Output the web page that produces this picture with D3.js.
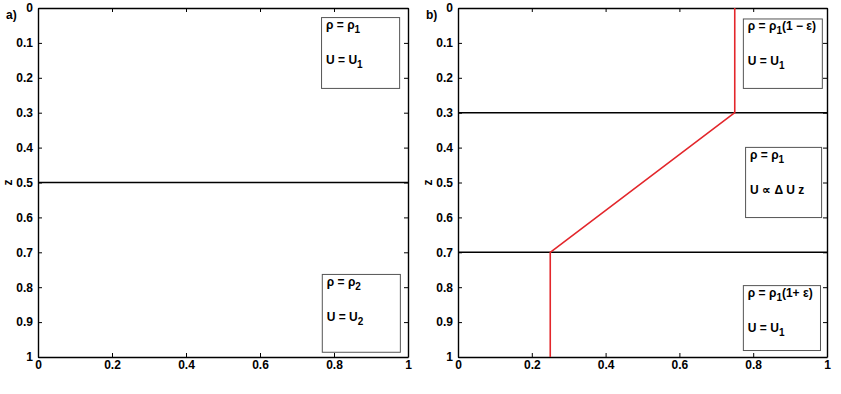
<!DOCTYPE html>
<html>
<head>
<meta charset="utf-8">
<script src="https://cdn.jsdelivr.net/npm/d3@7"></script>
<style>
  body { margin:0; background:#fff; }
  text { font-family: "Liberation Sans", Arial, Helvetica, sans-serif; font-weight: bold; }
</style>
</head>
<body>
<div class="canvas"></div>
<script>
// ---------------- data
const xTicks = [0, 0.2, 0.4, 0.6, 0.8, 1];
const zTicks = [0, 0.1, 0.2, 0.3, 0.4, 0.5, 0.6, 0.7, 0.8, 0.9, 1];

// interfaces (z) for each panel
const interfacesA = [0.5];
const interfacesB = [0.3, 0.7];

// red velocity profile in panel b
const profileU = [0.75, 0.75, 0.25, 0.25];
const profileZ = [0, 0.3, 0.7, 1];

// label boxes: [x0, x1, z0, z1] in data units + two text lines
const boxesA = [
  { ext:[0.765, 0.976, 0.026, 0.229], l1:[["ρ = ρ"],["1",1]], l2:[["U = U"],["1",1]] },
  { ext:[0.767, 0.978, 0.762, 0.985], l1:[["ρ = ρ"],["2",1]], l2:[["U = U"],["2",1]] }
];
const boxesB = [
  { ext:[0.772, 0.986, 0.030, 0.229], l1:[["ρ = ρ"],["1",1],["(1 − ε)"]], l2:[["U = U"],["1",1]] },
  { ext:[0.778, 0.984, 0.398, 0.599], l1:[["ρ = ρ"],["1",1]], l2:[["U ∝ Δ U z"]] },
  { ext:[0.772, 0.981, 0.794, 0.980], l1:[["ρ = ρ"],["1",1],["(1+ ε)"]], l2:[["U = U"],["1",1]] }
];

// ---------------- svg
const svg = d3.select('.canvas').append('svg')
  .attr('width', 841).attr('height', 394);

const dims = { top: 8, height: 349, width: 370 };

const drawPanel = (left, width, tag, interfaces, boxes, profile) => {
  const x = d3.scaleLinear().domain([0, 1]).range([left, left + width]);
  const y = d3.scaleLinear().domain([0, 1]).range([dims.top, dims.top + dims.height]);
  const g = svg.append('g');

  // axes with inward ticks
  const fmt = d3.format('.1~f');
  const styleAxis = sel => {
    sel.select('.domain').attr('stroke', '#000').attr('stroke-width', 1.4);
    sel.selectAll('.tick line').attr('stroke', '#000').attr('stroke-width', 1);
    sel.selectAll('text').attr('font-size', 12).attr('fill', '#000')
      .style('font-family', '"Liberation Sans", Arial, sans-serif').style('font-weight', 'bold');
  };
  g.append('g').attr('transform', `translate(0,${y(1)})`)
    .call(d3.axisBottom(x).tickValues(xTicks).tickFormat(fmt).tickSizeInner(-4).tickSizeOuter(0).tickPadding(3))
    .call(styleAxis);
  g.append('g').attr('transform', `translate(0,${y(0)})`)
    .call(d3.axisTop(x).tickValues(xTicks).tickFormat('').tickSizeInner(-4).tickSizeOuter(0))
    .call(styleAxis);
  g.append('g').attr('transform', `translate(${x(0)},0)`)
    .call(d3.axisLeft(y).tickValues(zTicks).tickFormat(fmt).tickSizeInner(-4).tickSizeOuter(0).tickPadding(5))
    .call(styleAxis);
  g.append('g').attr('transform', `translate(${x(1)},0)`)
    .call(d3.axisRight(y).tickValues(zTicks).tickFormat('').tickSizeInner(-4).tickSizeOuter(0))
    .call(styleAxis);

  // interfaces
  g.selectAll('line.iface').data(interfaces).enter().append('line')
    .attr('class', 'iface')
    .attr('x1', x(0)).attr('x2', x(1))
    .attr('y1', d => y(d)).attr('y2', d => y(d))
    .attr('stroke', '#000').attr('stroke-width', 1.6);

  // velocity profile
  if (profile) {
    const line = d3.line().x(d => x(d[0])).y(d => y(d[1]));
    g.append('path').datum(profile)
      .attr('d', line).attr('fill', 'none')
      .attr('stroke', '#e3262b').attr('stroke-width', 1.6);
  }

  // label boxes
  boxes.forEach(b => {
    const [x0, x1, z0, z1] = b.ext;
    g.append('rect')
      .attr('x', x(x0) + 0.5).attr('y', y(z0) + 0.5)
      .attr('width', x(x1) - x(x0)).attr('height', y(z1) - y(z0))
      .attr('fill', '#fff').attr('stroke', '#555').attr('stroke-width', 1);
    [[b.l1, 12], [b.l2, 47]].forEach(([parts, dy]) => {
      const t = g.append('text')
        .attr('x', x(x0) + 5).attr('y', y(z0) + dy)
        .attr('font-size', 12).attr('fill', '#000');
      parts.forEach(p => {
        const ts = t.append('tspan').text(p[0]);
        if (p[1]) ts.attr('dy', 4).attr('font-size', 10);
        else if (t.selectAll('tspan').size() > 1) ts.attr('dy', -4);
      });
    });
  });

  // panel tag
  svg.append('text').attr('x', left - 32).attr('y', 19)
    .attr('font-size', 12).text(tag);

  return { x, y };
};

drawPanel(38, 370, 'a)', interfacesA, boxesA, null);
drawPanel(458, 369, 'b)', interfacesB, boxesB, profileU.map((u, i) => [u, profileZ[i]]));

// z labels
[8, 428].forEach(px => {
  svg.append('text')
    .attr('transform', `translate(${px},${dims.top + dims.height / 2}) rotate(-90)`)
    .attr('text-anchor', 'middle').attr('dy', '0.35em')
    .attr('font-size', 12).text('z');
});
</script>
</body>
</html>
